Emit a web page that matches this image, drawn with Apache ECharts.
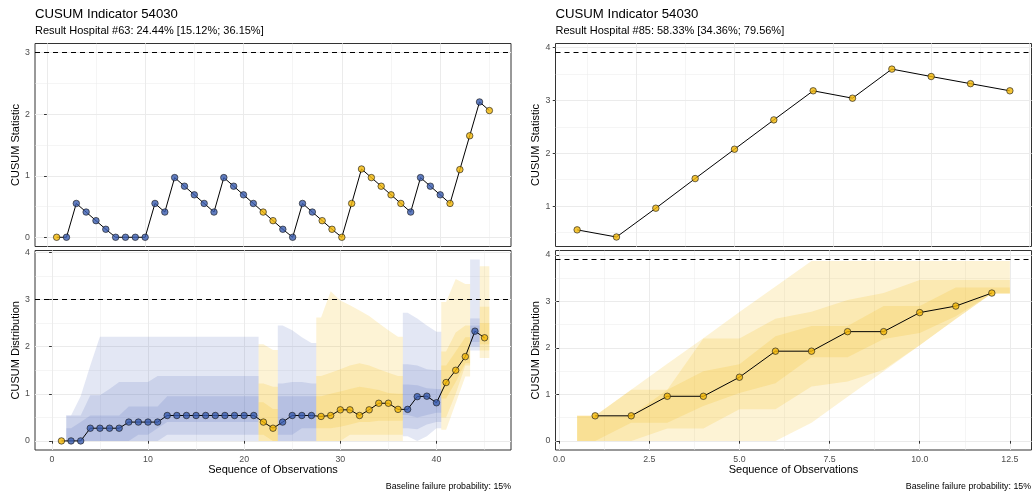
<!DOCTYPE html>
<html>
<head>
<meta charset="utf-8">
<script src="https://cdn.jsdelivr.net/npm/echarts@6/dist/echarts.min.js"></script>
<style>
  html, body { margin: 0; padding: 0; background: #ffffff; }
  #chart { width: 1034px; height: 495px; }
</style>
</head>
<body>
<div id="chart"></div>
<script>
// ---------------- Hospital #63 ----------------
const seqLeft = [1, 2, 3, 4, 5, 6, 7, 8, 9, 10, 11, 12, 13, 14, 15, 16, 17, 18, 19, 20,
  21, 22, 23, 24, 25, 26, 27, 28, 29, 30, 31, 32, 33, 34, 35, 36, 37, 38, 39, 40,
  41, 42, 43, 44, 45];
const groupLeft = ['gold', 'blue', 'blue', 'blue', 'blue', 'blue', 'blue', 'blue', 'blue', 'blue',
  'blue', 'blue', 'blue', 'blue', 'blue', 'blue', 'blue', 'blue', 'blue', 'blue',
  'blue', 'gold', 'gold', 'blue', 'blue', 'blue', 'blue', 'gold', 'gold', 'gold',
  'gold', 'gold', 'gold', 'gold', 'gold', 'gold', 'blue', 'blue', 'blue', 'blue',
  'gold', 'gold', 'gold', 'blue', 'gold'];
const cusumLeft = [0, 0, 0.55, 0.41, 0.27, 0.13, 0, 0, 0, 0,
  0.55, 0.41, 0.97, 0.83, 0.69, 0.55, 0.41, 0.97, 0.83, 0.69,
  0.55, 0.41, 0.27, 0.13, 0, 0.55, 0.41, 0.27, 0.13, 0,
  0.55, 1.11, 0.97, 0.83, 0.69, 0.55, 0.41, 0.97, 0.83, 0.69,
  0.55, 1.10, 1.65, 2.20, 2.06];
const medianLeft = [0, 0, 0, 0.27, 0.27, 0.27, 0.27, 0.40, 0.40, 0.40,
  0.40, 0.54, 0.54, 0.54, 0.54, 0.54, 0.54, 0.54, 0.54, 0.54,
  0.54, 0.40, 0.27, 0.40, 0.54, 0.54, 0.54, 0.52, 0.54, 0.66,
  0.66, 0.54, 0.66, 0.80, 0.80, 0.67, 0.67, 0.94, 0.95, 0.81,
  1.24, 1.50, 1.79, 2.33, 2.19];
// outer / middle / inner quantile bands of the simulated CUSUM distribution
const outerLoLeft = [0, 0, 0, 0, 0, 0, 0, 0, 0, 0,
  0, 0, 0, 0, 0, 0, 0, 0, 0, 0,
  0, 0, 0, 0, 0, 0, 0, 0, 0, 0,
  0, 0, 0, 0, 0, 0, 0.10, 0, 0.10, 0.27,
  0.24, 0.80, 1.37, 1.92, 1.76];
const outerHiLeft = [0, 0.54, 0.95, 1.60, 2.21, 2.21, 2.21, 2.21, 2.21, 2.21,
  2.21, 2.21, 2.21, 2.21, 2.21, 2.21, 2.21, 2.21, 2.21, 2.21,
  2.21, 2.05, 1.93, 2.45, 2.35, 2.20, 2.08, 2.62, 3.18, 2.98,
  2.88, 2.77, 2.65, 2.50, 2.35, 2.21, 2.72, 2.60, 2.45, 2.32,
  2.95, 3.44, 3.33, 3.85, 3.71];
const midLoLeft = [0, 0, 0, 0, 0, 0, 0, 0, 0, 0,
  0, 0.13, 0.13, 0.13, 0.13, 0.13, 0.13, 0.13, 0.13, 0.13,
  0.13, 0, 0, 0, 0, 0, 0, 0, 0, 0,
  0.13, 0.13, 0.13, 0.13, 0.13, 0.13, 0.27, 0.25, 0.35, 0.40,
  0.50, 1.00, 1.60, 2.00, 1.92];
const midHiLeft = [0, 0.54, 0.54, 0.97, 0.97, 1.10, 1.25, 1.25, 1.25, 1.25,
  1.38, 1.38, 1.38, 1.38, 1.38, 1.38, 1.38, 1.38, 1.38, 1.38,
  1.38, 1.22, 1.15, 1.22, 1.25, 1.25, 1.22, 1.38, 1.45, 1.52,
  1.60, 1.65, 1.60, 1.52, 1.45, 1.38, 1.63, 1.60, 1.52, 1.50,
  1.90, 2.30, 2.45, 2.60, 2.85];
const innerLoLeft = [0, 0, 0, 0, 0, 0, 0, 0, 0.13, 0.13,
  0.27, 0.40, 0.40, 0.40, 0.40, 0.40, 0.40, 0.40, 0.40, 0.40,
  0.40, 0.13, 0, 0.13, 0.13, 0.27, 0.27, 0.27, 0.27, 0.30,
  0.35, 0.40, 0.40, 0.43, 0.43, 0.43, 0.55, 0.50, 0.55, 0.60,
  0.90, 1.25, 1.65, 2.10, 2.05];
const innerHiLeft = [0, 0.27, 0.40, 0.54, 0.54, 0.54, 0.54, 0.73, 0.73, 0.73,
  0.73, 0.95, 0.95, 0.95, 0.95, 0.95, 0.95, 0.95, 0.95, 0.95,
  0.95, 0.82, 0.68, 0.95, 0.95, 0.95, 0.95, 0.95, 1.00, 1.05,
  1.10, 1.15, 1.12, 1.08, 1.02, 1.00, 1.20, 1.18, 1.12, 1.10,
  1.60, 1.90, 2.20, 2.45, 2.50];
const thresholdLeft = 3;

// ---------------- Hospital #85 ----------------
const seqRight = [1, 2, 3, 4, 5, 6, 7, 8, 9, 10, 11, 12];
const groupRight = ['gold', 'gold', 'gold', 'gold', 'gold', 'gold', 'gold', 'gold', 'gold', 'gold', 'gold', 'gold'];
const cusumRight = [0.55, 0.415, 0.96, 1.52, 2.075, 2.63, 3.18, 3.04, 3.59, 3.45, 3.315, 3.18];
const medianRight = [0.54, 0.54, 0.96, 0.96, 1.37, 1.93, 1.93, 2.35, 2.35, 2.76, 2.90, 3.18];
const outerLoRight = [0, 0, 0, 0, 0, 0, 0.39, 0.95, 1.50, 2.06, 2.62, 3.17];
const outerHiRight = [0.54, 1.10, 1.66, 2.21, 2.77, 3.32, 3.87, 3.87, 3.87, 3.87, 3.87, 3.87];
const midLoRight = [0, 0, 0.27, 0.27, 0.68, 0.68, 1.17, 1.28, 1.53, 2.06, 2.62, 3.17];
const midHiRight = [0.54, 1.10, 1.10, 2.20, 2.20, 2.63, 2.78, 3.03, 3.18, 3.46, 3.46, 3.46];
const innerLoRight = [0, 0.39, 0.39, 0.75, 1.03, 1.24, 1.80, 1.80, 2.19, 2.32, 2.68, 3.17];
const innerHiRight = [0.54, 0.54, 1.10, 1.50, 1.65, 2.25, 2.47, 2.47, 2.90, 2.90, 3.30, 3.30];
const thresholdRight = 3.9;

// ---------------- styling ----------------
const FONT = '"Liberation Sans", Arial, Helvetica, sans-serif';
const POINT = { blue: '#3a5cb0', gold: '#f2b705' };
const RIBBON = { blue: 'rgba(59,91,176,0.145)', gold: 'rgba(242,183,5,0.17)' };
const GRID_MAJOR = '#ebebeb';

// Join neighbouring observations of the same group into one ribbon polygon per band.
function ribbonPolygons(seq, group, bands) {
  const runs = [];
  let s = 0;
  for (let i = 1; i <= seq.length; i++) {
    if (i === seq.length || group[i] !== group[s]) { runs.push([s, i - 1]); s = i; }
  }
  const polys = [];
  runs.forEach(([a, b]) => {
    bands.forEach(([lo, hi]) => {
      const pts = [[seq[a] - 0.5, hi[a]]];
      for (let k = a; k <= b; k++) pts.push([seq[k], hi[k]]);
      pts.push([seq[b] + 0.5, hi[b]]);
      pts.push([seq[b] + 0.5, lo[b]]);
      for (let k = b; k >= a; k--) pts.push([seq[k], lo[k]]);
      pts.push([seq[a] - 0.5, lo[a]]);
      polys.push({ group: group[a], pts });
    });
  });
  return polys;
}

function ribbonSeries(polys, axisIndex) {
  return {
    type: 'custom', xAxisIndex: axisIndex, yAxisIndex: axisIndex, silent: true, z: 1,
    data: polys.map(p => p.pts[0]),
    renderItem: (params, api) => {
      const p = polys[params.dataIndex];
      return {
        type: 'polygon',
        shape: { points: p.pts.map(q => api.coord(q)) },
        style: { fill: RIBBON[p.group], stroke: null }
      };
    }
  };
}

function lineSeries(seq, vals, axisIndex, threshold) {
  return {
    type: 'line', xAxisIndex: axisIndex, yAxisIndex: axisIndex, z: 3,
    data: seq.map((x, i) => [x, vals[i]]),
    showSymbol: false, symbol: 'none', silent: true,
    lineStyle: { color: '#000', width: 1 },
    markLine: {
      silent: true, symbol: 'none', label: { show: false }, animation: false,
      lineStyle: { color: '#000', type: [5, 4], width: 1 },
      data: [{ yAxis: threshold }]
    }
  };
}

function pointSeries(seq, vals, group, axisIndex) {
  return {
    type: 'scatter', xAxisIndex: axisIndex, yAxisIndex: axisIndex, z: 4, silent: true,
    symbolSize: 6.5,
    data: seq.map((x, i) => ({
      value: [x, vals[i]],
      itemStyle: { color: POINT[group[i]], borderColor: '#1a1a1a', borderWidth: 0.8 }
    }))
  };
}

// Major axis carries labels/ticks and major grid lines; a twin axis draws the minor grid lines.
function axisPair(dim, gridIndex, range, major, minor, opts) {
  const base = {
    type: 'value', gridIndex, min: range[0], max: range[1],
    axisLine: { show: false }
  };
  const main = Object.assign({}, base, {
    minInterval: major, maxInterval: major, splitNumber: 5,
    axisTick: { show: !!opts.labels, length: 2.75, lineStyle: { color: '#333333', width: 1 } },
    axisLabel: {
      show: !!opts.labels, showMinLabel: false, showMaxLabel: false,
      color: '#4d4d4d', fontSize: 8.8, fontFamily: FONT, margin: 5,
      formatter: opts.fmt || (v => String(v))
    },
    splitLine: { show: true, showMinLine: false, showMaxLine: false, lineStyle: { color: GRID_MAJOR, width: 1 } },
    name: opts.name || '', nameLocation: 'middle', nameGap: opts.nameGap || 13,
    nameRotate: dim === 'y' ? 90 : 0,
    nameTextStyle: { color: '#000', fontSize: 11, fontFamily: FONT }
  });
  const twin = Object.assign({}, base, {
    minInterval: minor, maxInterval: minor, splitNumber: 10,
    position: dim === 'y' ? 'right' : 'top',
    axisTick: { show: false }, axisLabel: { show: false },
    splitLine: { show: true, showMinLine: false, showMaxLine: false, lineStyle: { color: GRID_MAJOR, width: 0.5 } }
  });
  return [main, twin];
}

const grids = [
  { left: 35, top: 43.5, width: 476, height: 203 },
  { left: 35, top: 250.5, width: 476, height: 199.5 },
  { left: 555.5, top: 43.5, width: 476, height: 203 },
  { left: 555.5, top: 250.5, width: 476, height: 199.5 }
].map(g => Object.assign(g, { show: true, borderColor: '#333333', borderWidth: 1, backgroundColor: '#fff', containLabel: false }));

const fmt1 = v => v.toFixed(1);
const xAxes = [
  ...axisPair('x', 0, [-1.2, 47.2], 10, 5, {}),
  ...axisPair('x', 1, [-1.75, 47.75], 10, 5, { labels: true, name: 'Sequence of Observations', nameGap: 14 }),
  ...axisPair('x', 2, [0.45, 12.55], 2.5, 1.25, {}),
  ...axisPair('x', 3, [-0.1, 13.1], 2.5, 1.25, { labels: true, fmt: fmt1, name: 'Sequence of Observations', nameGap: 14 })
];
const yAxes = [
  ...axisPair('y', 0, [-0.15, 3.15], 1, 0.5, { labels: true, name: 'CUSUM Statistic' }),
  ...axisPair('y', 1, [-0.1925, 4.0425], 1, 0.5, { labels: true, name: 'CUSUM Distribution' }),
  ...axisPair('y', 2, [0.2355, 4.0745], 1, 0.5, { labels: true, name: 'CUSUM Statistic' }),
  ...axisPair('y', 3, [-0.195, 4.095], 1, 0.5, { labels: true, name: 'CUSUM Distribution' })
];

const polysLeft = ribbonPolygons(seqLeft, groupLeft, [
  [outerLoLeft, outerHiLeft], [midLoLeft, midHiLeft], [innerLoLeft, innerHiLeft]
]);
const polysRight = ribbonPolygons(seqRight, groupRight, [
  [outerLoRight, outerHiRight], [midLoRight, midHiRight], [innerLoRight, innerHiRight]
]);

// axis indices: panel p uses xAxis/yAxis 2p (main); twins are 2p+1
const series = [
  lineSeries(seqLeft, cusumLeft, 0, thresholdLeft),
  pointSeries(seqLeft, cusumLeft, groupLeft, 0),
  ribbonSeries(polysLeft, 2),
  lineSeries(seqLeft, medianLeft, 2, thresholdLeft),
  pointSeries(seqLeft, medianLeft, groupLeft, 2),
  lineSeries(seqRight, cusumRight, 4, thresholdRight),
  pointSeries(seqRight, cusumRight, groupRight, 4),
  ribbonSeries(polysRight, 6),
  lineSeries(seqRight, medianRight, 6, thresholdRight),
  pointSeries(seqRight, medianRight, groupRight, 6)
];

const titleStyle = { fontSize: 13.2, fontWeight: 'normal', color: '#000', fontFamily: FONT };
const subStyle = { fontSize: 11, color: '#000', fontFamily: FONT };
const capStyle = { fontSize: 8.8, fontWeight: 'normal', color: '#000', fontFamily: FONT };

const option = {
  animation: false,
  backgroundColor: '#ffffff',
  textStyle: { fontFamily: FONT },
  title: [
    { left: 35, top: 8, padding: 0, itemGap: 4, text: 'CUSUM Indicator 54030',
      subtext: 'Result Hospital #63: 24.44% [15.12%; 36.15%]', textStyle: titleStyle, subtextStyle: subStyle },
    { left: 555.5, top: 8, padding: 0, itemGap: 4, text: 'CUSUM Indicator 54030',
      subtext: 'Result Hospital #85: 58.33% [34.36%; 79.56%]', textStyle: titleStyle, subtextStyle: subStyle },
    { right: 523, top: 482, padding: 0, text: 'Baseline failure probability: 15%', textStyle: capStyle },
    { right: 3, top: 482, padding: 0, text: 'Baseline failure probability: 15%', textStyle: capStyle }
  ],
  grid: grids,
  xAxis: xAxes,
  yAxis: yAxes,
  series
};

const chart = echarts.init(document.getElementById('chart'), null, { renderer: 'canvas' });
chart.setOption(option);
</script>
</body>
</html>
